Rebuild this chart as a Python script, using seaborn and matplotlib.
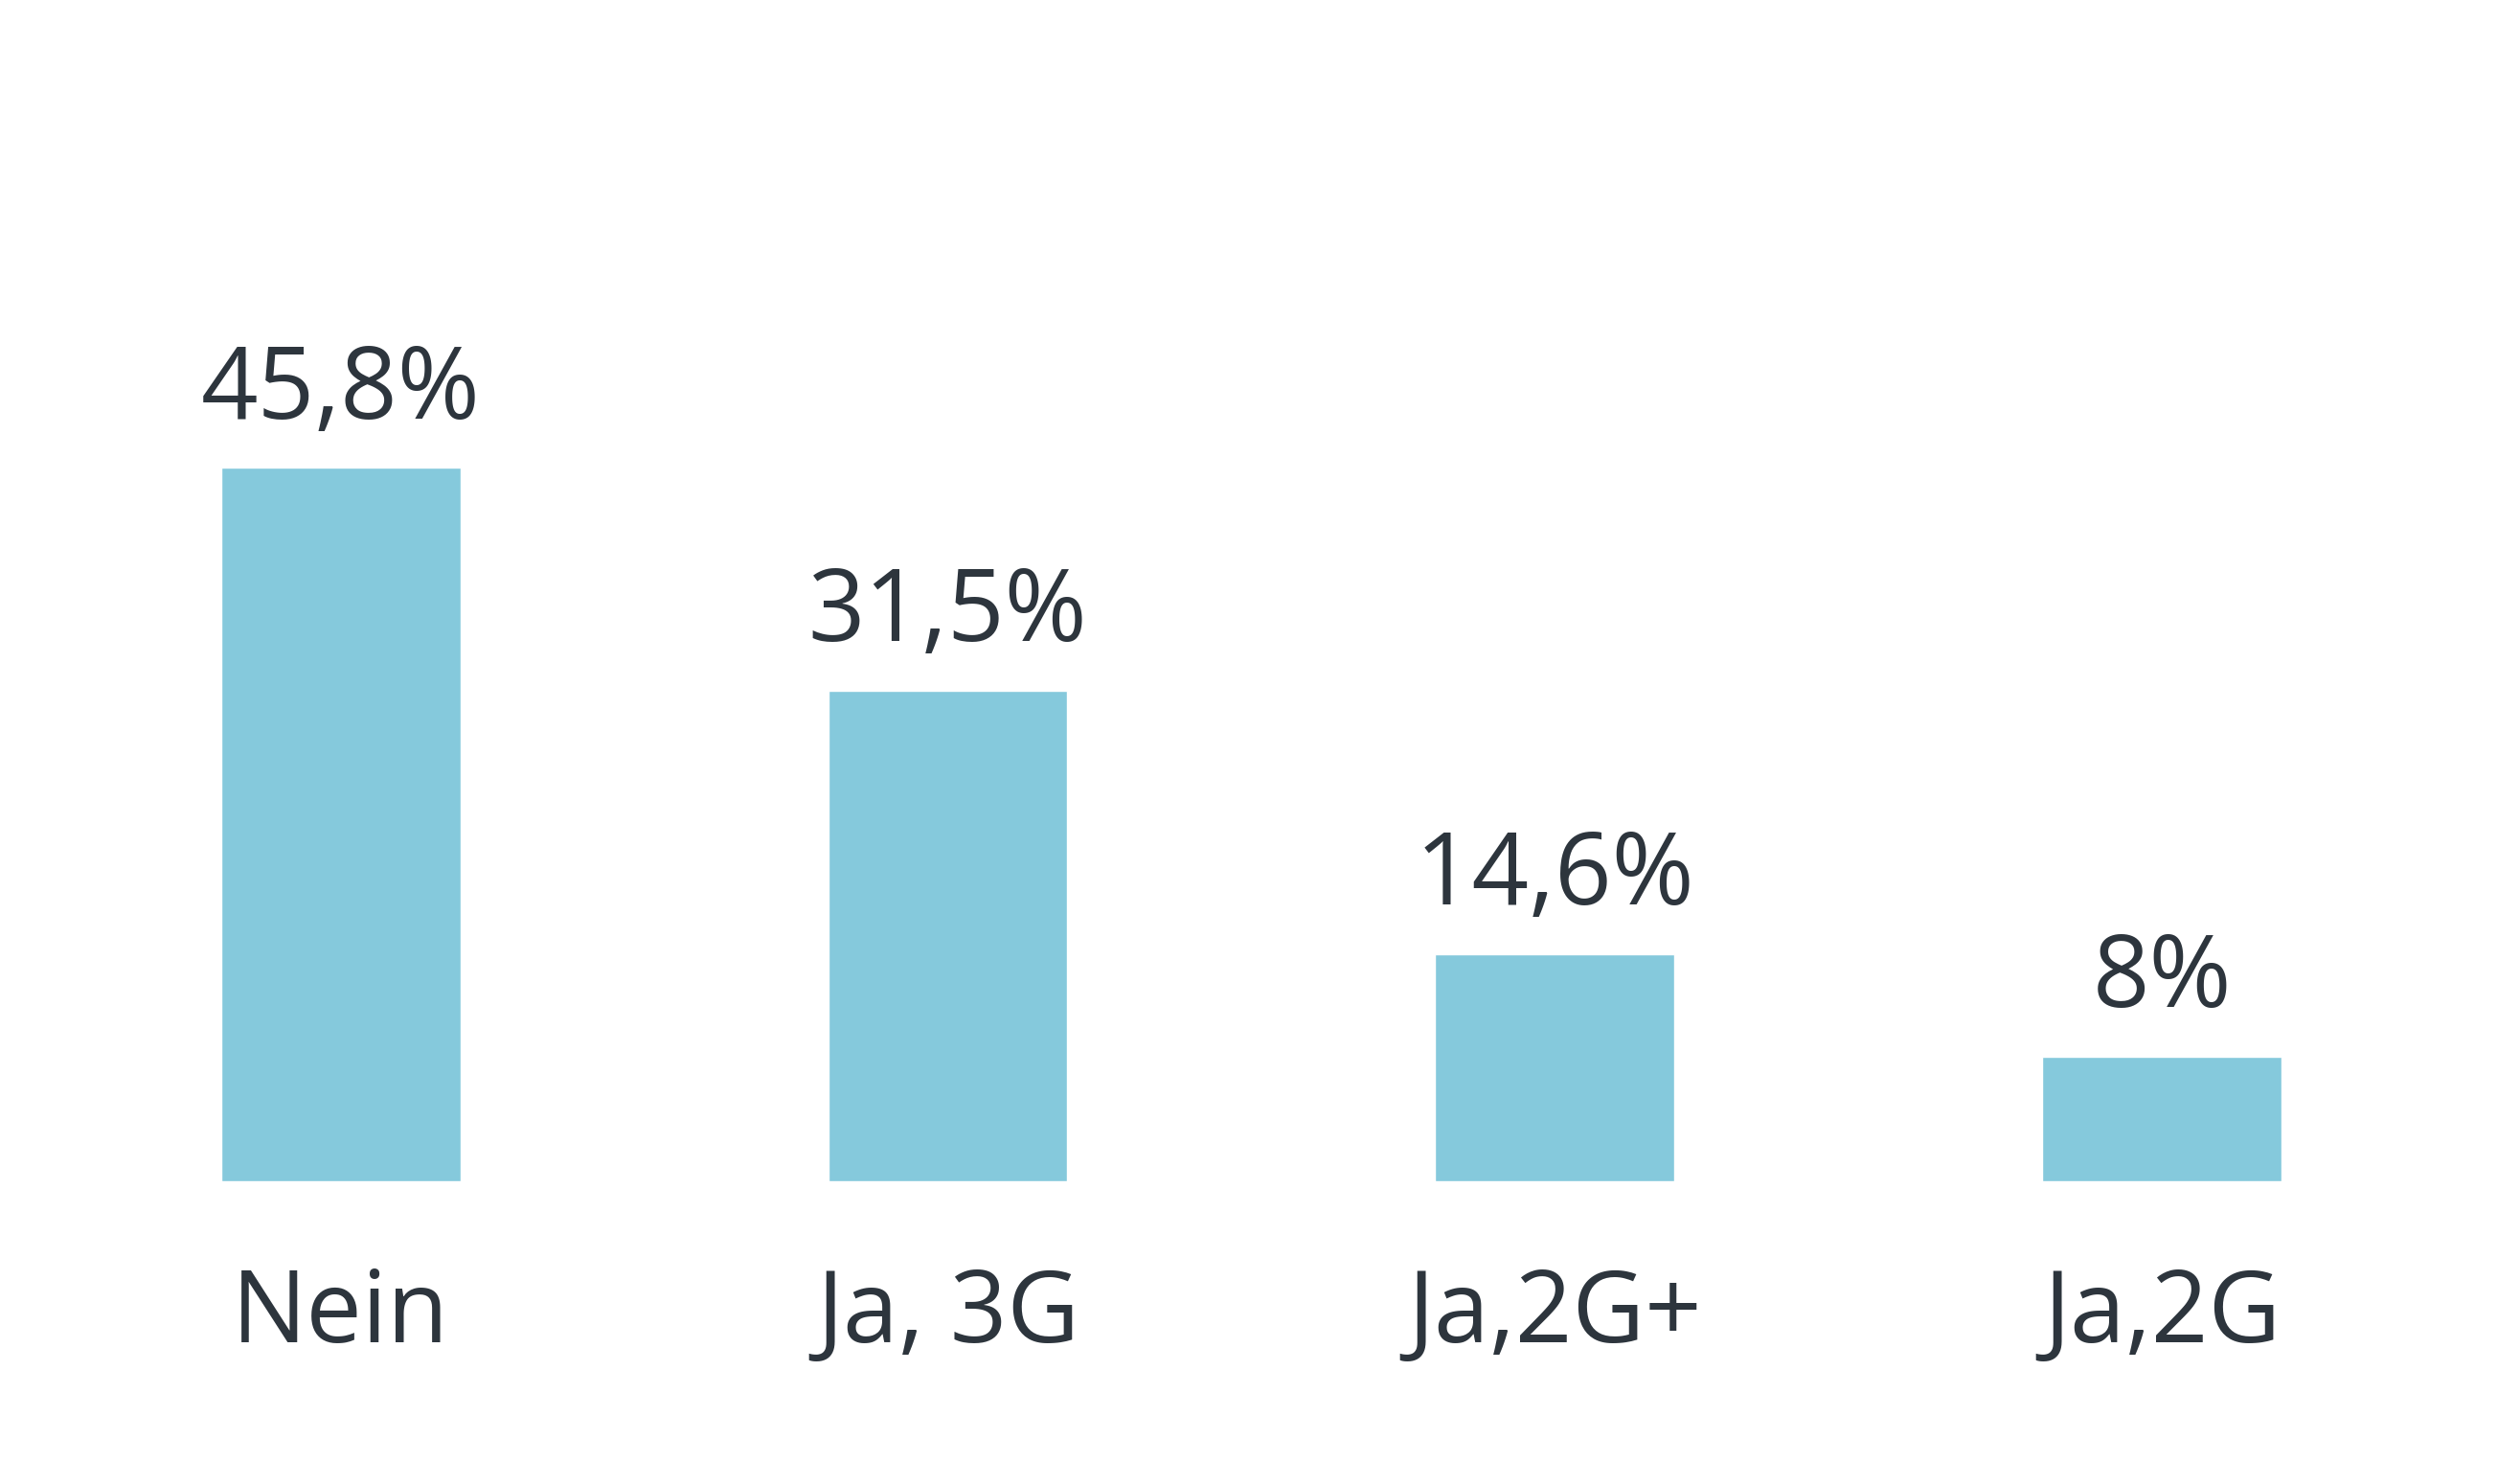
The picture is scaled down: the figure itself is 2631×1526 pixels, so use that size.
import pandas as pd
import matplotlib
matplotlib.use("Agg")
import matplotlib.pyplot as plt
import seaborn as sns

categories = ["Nein", "Ja, 3G", "Ja,2G+", "Ja,2G"]
values = [45.8, 31.5, 14.6, 8.0]
value_labels = ["45,8%", "31,5%", "14,6%", "8%"]

bar_color = "#85c9dc"
text_color = "#2d353d"

sns.set_theme(style="white")
plt.rcParams["font.family"] = ["Open Sans", "DejaVu Sans"]

df = pd.DataFrame({"kategorie": categories, "anteil": values})

fig = plt.figure(figsize=(26.31, 15.26), dpi=100)
ax = fig.add_axes([0, 293 / 1526, 1, 1233 / 1526])

sns.barplot(data=df, x="kategorie", y="anteil", color=bar_color,
            width=0.394, saturation=1, ax=ax)

ax.bar_label(ax.containers[0], labels=value_labels, padding=19,
             fontsize=75, color=text_color)

ax.set_xlim(-0.5615, 3.59)
ax.set_ylim(0, 75.8)
ax.set_xlabel("")
ax.set_ylabel("")
ax.set_yticks([])
ax.tick_params(axis="x", length=0, pad=64, labelsize=75, labelcolor=text_color)
sns.despine(ax=ax, left=True, bottom=True)

fig.savefig("out.png", dpi=100, facecolor="white")
